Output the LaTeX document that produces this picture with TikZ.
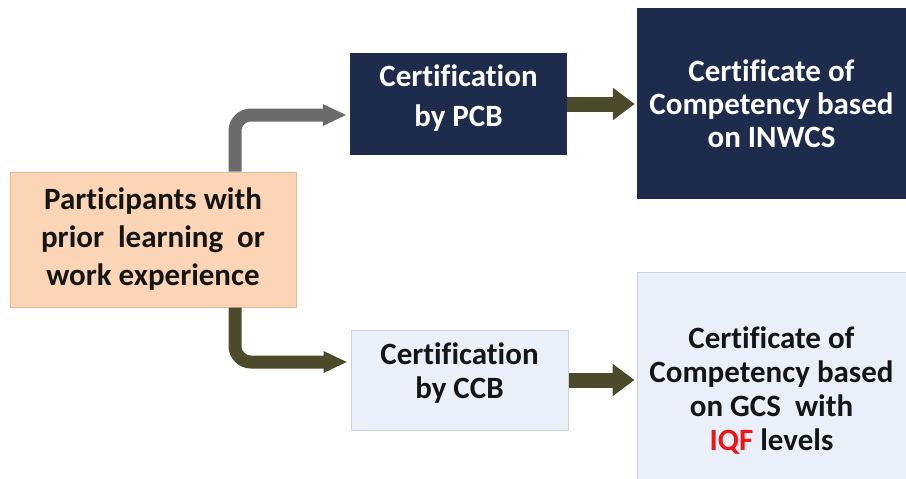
\documentclass[tikz,border=0pt]{standalone}
\usepackage{fontspec}
\setmainfont{Carlito}[Ligatures=NoCommon]
\usetikzlibrary{arrows.meta,calc}
\definecolor{navy}{HTML}{1D2B4C}
\definecolor{peach}{HTML}{FBD5B5}
\definecolor{peachline}{HTML}{E9B98F}
\definecolor{ice}{HTML}{E9F0FA}
\definecolor{iceline}{HTML}{C9D1DD}
\definecolor{olive}{HTML}{4D4A2B}
\definecolor{steel}{HTML}{6B6B6B}
\definecolor{ink}{HTML}{151515}
\definecolor{iqf}{HTML}{F01515}
\begin{document}
\begin{tikzpicture}[x=1pt,y=1pt,
 box/.style={rectangle, inner sep=0pt, align=center},
 darkbox/.style={box, fill=navy, text=white},
 lightbox/.style={box, fill=ice, draw=iceline, line width=1pt, text=ink},
 peachbox/.style={box, fill=peach, draw=peachline, line width=1pt, text=ink},
 label text/.style={align=center, inner sep=0pt},
 elbow/.style={line width=13pt, rounded corners=16pt, -{Triangle[length=24pt,width=20pt]}},
 fat/.style={line width=15pt, -{Triangle[length=22pt,width=31pt]}, draw=olive}]
\useasboundingbox (0,0) rectangle (906,-479);
\clip (0,0) rectangle (906,-479);
\node[peachbox, minimum width=286pt, minimum height=135pt, font=\fontsize{31}{38}\selectfont\bfseries] (part) at (153,-239.5) {Participants with\\prior\ \ learning\ \ or\\work experience};
\node[darkbox, minimum width=217pt, minimum height=102pt] (pcb) at (458.5,-104) {};
\node[label text, text=white, font=\fontsize{31}{40}\selectfont\bfseries] (pcbT) at ([yshift=6pt]pcb.center) {Certification\\by PCB};
\node[darkbox, minimum width=269pt, minimum height=191pt, font=\fontsize{31}{33}\selectfont\bfseries] (inw) at (771.5,-103.5) {Certificate of\\Competency based\\on INWCS};
\node[lightbox, minimum width=217pt, minimum height=100pt] (ccb) at (459.5,-380) {};
\node[label text, text=ink, font=\fontsize{31}{34}\selectfont\bfseries] (ccbT) at ([yshift=7pt]ccb.center) {Certification\\by CCB};
\node[lightbox, minimum width=269pt, minimum height=238pt, font=\fontsize{31}{34}\selectfont\bfseries] (gcs) at (771.5,-391) {Certificate of\\Competency based\\on GCS\ \ with\\\textcolor{iqf}{IQF} levels};
\draw[elbow, draw=steel] ([xshift=82pt]part.north) |- ([yshift=-11pt,xshift=-3pt]pcb.west);
\draw[elbow, draw=olive] ([xshift=82pt]part.south) |- ([yshift=18pt,xshift=-3pt]ccb.west);
\draw[fat] (pcb.east) -- ([xshift=-2pt]inw.west|-pcb.east);
\draw[fat] (ccb.east) -- ([xshift=-2pt]gcs.west|-ccb.east);
\end{tikzpicture}
\end{document}
